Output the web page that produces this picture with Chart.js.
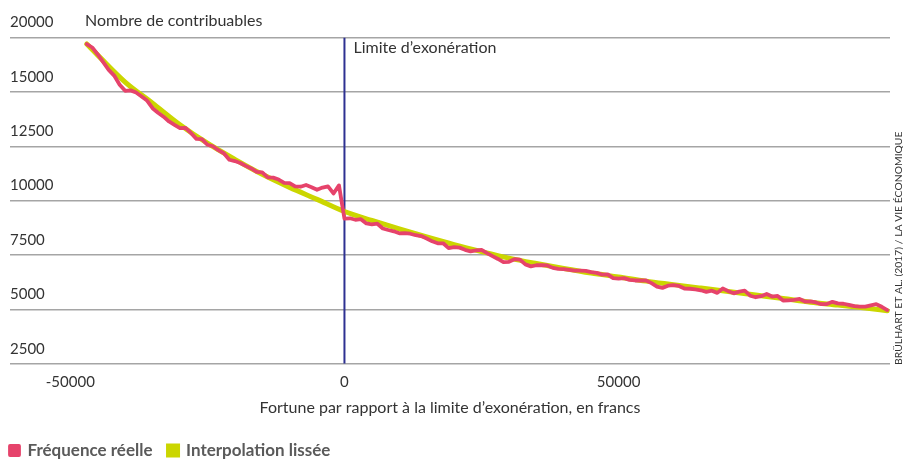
<!DOCTYPE html>
<html lang="fr">
<head>
<meta charset="utf-8">
<title>Nombre de contribuables</title>
<script src="https://cdn.jsdelivr.net/npm/chart.js@4.4.1/dist/chart.umd.min.js"></script>
<style>
  html, body { margin: 0; padding: 0; background: #fff; }
  #chart { display: block; }
</style>
</head>
<body>
<canvas id="chart" width="903" height="459"></canvas>
<script>
// Fortune par rapport à la limite d'exonération (francs), classes de 1000
const fortune = [
  -47000, -46000, -45000, -44000, -43000, -42000, -41000, -40000, -39000, -38000,
  -37000, -36000, -35000, -34000, -33000, -32000, -31000, -30000, -29000, -28000,
  -27000, -26000, -25000, -24000, -23000, -22000, -21000, -20000, -19000, -18000,
  -17000, -16000, -15000, -14000, -13000, -12000, -11000, -10000, -9000, -8000,
  -7000, -6000, -5000, -4000, -3000, -2000, -1000,
  0, 1000, 2000, 3000, 4000, 5000, 6000, 7000, 8000, 9000,
  10000, 11000, 12000, 13000, 14000, 15000, 16000, 17000, 18000, 19000,
  20000, 21000, 22000, 23000, 24000, 25000, 26000, 27000, 28000, 29000,
  30000, 31000, 32000, 33000, 34000, 35000, 36000, 37000, 38000, 39000,
  40000, 41000, 42000, 43000, 44000, 45000, 46000, 47000, 48000, 49000,
  50000, 51000, 52000, 53000, 54000, 55000, 56000, 57000, 58000, 59000,
  60000, 61000, 62000, 63000, 64000, 65000, 66000, 67000, 68000, 69000,
  70000, 71000, 72000, 73000, 74000, 75000, 76000, 77000, 78000, 79000,
  80000, 81000, 82000, 83000, 84000, 85000, 86000, 87000, 88000, 89000,
  90000, 91000, 92000, 93000, 94000, 95000, 96000, 97000, 98000, 99000
];

const frequenceReelle = [
  17200, 17040, 16720, 16370, 16010, 15750, 15330, 15050, 15070, 14970,
  14790, 14600, 14250, 14040, 13860, 13640, 13480, 13330, 13350, 13110,
  12840, 12830, 12570, 12500, 12320, 12180, 11880, 11820, 11730, 11600,
  11480, 11320, 11300, 11070, 11060, 10970, 10820, 10810, 10660, 10640,
  10720, 10620, 10500, 10600, 10660, 10330, 10700,
  9170, 9190, 9120, 9150, 8950, 8910, 8940, 8720, 8650, 8590,
  8500, 8510, 8480, 8410, 8370, 8260, 8130, 8040, 8040, 7820,
  7860, 7840, 7740, 7670, 7710, 7740, 7590, 7450, 7320, 7170,
  7190, 7310, 7290, 7070, 6980, 7030, 7040, 7020, 6910, 6860,
  6850, 6820, 6780, 6780, 6770, 6710, 6680, 6600, 6610, 6440,
  6420, 6440, 6360, 6330, 6330, 6330, 6210, 6050, 5990, 6090,
  6120, 6080, 5960, 5950, 5920, 5880, 5810, 5860, 5760, 5960,
  5840, 5740, 5820, 5860, 5630, 5560, 5610, 5710, 5590, 5620,
  5410, 5420, 5440, 5480, 5360, 5370, 5320, 5240, 5250, 5350,
  5280, 5260, 5210, 5150, 5130, 5130, 5190, 5240, 5120, 4970
];

// Interpolation lissée
const lisseeFortune = [
  -47000, -45000, -40000, -35000, -30000, -25000, -20000, -15000, -10000, -5000,
  0, 5000, 10000, 15000, 20000, 25000, 30000, 35000, 40000, 45000,
  50000, 55000, 60000, 65000, 70000, 75000, 80000, 85000, 90000, 95000, 99000
];
const lisseeValeurs = [
  17200, 16690, 15450, 14480, 13490, 12640, 11900, 11210, 10610, 10060,
  9500, 9090, 8700, 8330, 7980, 7660, 7360, 7110, 6880, 6670,
  6490, 6300, 6140, 5980, 5820, 5660, 5500, 5330, 5200, 5060, 4940
];

// Axes
const yTickValues = [2500, 5000, 7500, 10000, 12500, 15000, 17500];
const yTickLabels = ['2500', '5000', '7500', '10000', '12500', '15000', '20000'];
const xTickValues = [-50000, 0, 50000];
const xTickLabels = ['-50000', '0', '50000'];
const limiteExoneration = 0;

const FONT = 'Lato';
const TEXT = '#333333';

function pts(xs, ys) {
    return xs.map((x, i) => ({ x: x, y: ys[i] }));
}

// Textes libres : titre de l'axe Y, limite, source
const textesPlugin = {
    id: 'textes',
    afterLayout(chart) {
        // legende collée à gauche et en bas comme l'original
        const lg = chart.legend;
        if (lg) {
            lg.left -= 16;
            lg.right -= 16;
            lg.top += 7;
            lg.bottom += 7;
        }
    },
    afterDraw(chart) {
        const ctx = chart.ctx;
        const x0 = chart.scales.x.getPixelForValue(limiteExoneration);
        ctx.save();
        ctx.fillStyle = TEXT;
        ctx.font = '16px ' + FONT;
        ctx.textAlign = 'left';
        ctx.textBaseline = 'middle';
        ctx.fillText('Nombre de contribuables', 85, 21);
        ctx.fillText('Limite d\u2019exonération', x0 + 9, 48);

        ctx.translate(902, 365);
        ctx.rotate(-Math.PI / 2);
        ctx.font = '10.4px ' + FONT;
        ctx.textBaseline = 'alphabetic';
        ctx.fillText('BRÜLHART ET AL. (2017) / LA VIE ÉCONOMIQUE', 0, 0);
        ctx.restore();
    }
};

new Chart(document.getElementById('chart'), {
    type: 'line',
    data: {
        datasets: [{
            label: 'Fréquence réelle',
            data: pts(fortune, frequenceReelle),
            borderColor: '#e6436b',
            backgroundColor: '#e6436b',
            borderWidth: 3.8,
            borderJoinStyle: 'round',
            borderCapStyle: 'round',
            pointRadius: 0,
            tension: 0
        }, {
            label: 'Interpolation lissée',
            data: pts(lisseeFortune, lisseeValeurs),
            borderColor: '#cbd600',
            backgroundColor: '#cbd600',
            borderWidth: 5,
            borderCapStyle: 'round',
            pointRadius: 0,
            cubicInterpolationMode: 'monotone'
        }, {
            label: 'Limite',
            data: [{ x: limiteExoneration, y: 2500 }, { x: limiteExoneration, y: 17500 }],
            borderColor: '#2e3192',
            borderWidth: 2,
            pointRadius: 0
        }]
    },
    options: {
        responsive: false,
        animation: false,
        events: [],
        layout: { padding: { top: 37.5, left: 10, right: 13, bottom: -3 } },
        plugins: {
            legend: {
                position: 'bottom',
                align: 'start',
                labels: {
                    boxWidth: 9,
                    boxHeight: 9,
                    padding: 16,
                    color: '#5a5a5a',
                    font: { family: FONT, size: 17, weight: 'bold' },
                    filter: item => item.datasetIndex < 2
                }
            },
            tooltip: { enabled: false }
        },
        scales: {
            x: {
                type: 'linear',
                min: -61000,
                max: 99500,
                afterBuildTicks: scale => { scale.ticks = xTickValues.map(v => ({ value: v })); },
                grid: { display: false },
                border: { display: false },
                ticks: {
                    padding: 1,
                    color: TEXT,
                    font: { family: FONT, size: 15 },
                    maxRotation: 0,
                    callback: (v, i) => xTickLabels[i]
                },
                title: {
                    display: true,
                    text: 'Fortune par rapport à la limite d\u2019exonération, en francs',
                    color: TEXT,
                    font: { family: FONT, size: 16 },
                    padding: { top: 6, bottom: 2 }
                }
            },
            y: {
                min: 2500,
                max: 17500,
                afterBuildTicks: scale => { scale.ticks = yTickValues.map(v => ({ value: v })); },
                grid: { color: '#a5a5a5', lineWidth: 1.5, drawTicks: false },
                border: { display: false },
                ticks: {
                    mirror: true,
                    padding: 0,
                    labelOffset: -15,
                    color: TEXT,
                    font: { family: FONT, size: 15 },
                    callback: (v, i) => yTickLabels[i]
                }
            }
        }
    },
    plugins: [textesPlugin]
});
</script>
</body>
</html>
